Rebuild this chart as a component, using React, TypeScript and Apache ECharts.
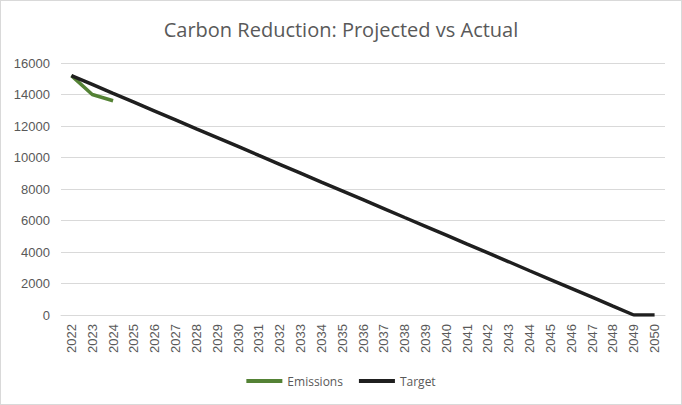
import React, { useEffect, useRef } from "react";
import * as echarts from "echarts";

const years = [
  "2022", "2023", "2024", "2025", "2026", "2027", "2028", "2029", "2030", "2031",
  "2032", "2033", "2034", "2035", "2036", "2037", "2038", "2039", "2040", "2041",
  "2042", "2043", "2044", "2045", "2046", "2047", "2048", "2049", "2050",
];
const emissions = [15200, 14000, 13600];
const target = [
  15200, 14640, 14070, 13510, 12950, 12390, 11820, 11260, 10700, 10130,
  9570, 9010, 8440, 7880, 7320, 6760, 6190, 5630, 5070, 4500,
  3940, 3380, 2810, 2250, 1690, 1130, 560, 0, 0,
];
const yMin = 0;
const yMax = 16000;
const yStep = 2000;

export default function App() {
  const ref = useRef<HTMLDivElement>(null);
  useEffect(() => {
    if (!ref.current) return;
    const chart = echarts.init(ref.current, null, { renderer: "svg" });
    const font = "Open Sans, Noto Sans, sans-serif";
    const labelFont = "Liberation Sans, Arial, sans-serif";
    chart.setOption({
      animation: false,
      backgroundColor: "#ffffff",
      title: {
        text: "Carbon Reduction: Projected vs Actual",
        left: "center",
        top: 13,
        textStyle: { fontFamily: font, fontSize: 20, fontWeight: "normal", color: "#595959" },
      },
      grid: { left: 60, right: 16, top: 62, bottom: 89, containLabel: false },
      xAxis: {
        type: "category",
        data: years,
        boundaryGap: true,
        axisLine: { show: true, lineStyle: { color: "#d9d9d9", width: 1 } },
        axisTick: { show: false },
        axisLabel: {
          rotate: 90,
          fontFamily: labelFont,
          fontSize: 13,
          color: "#595959",
          margin: 9,
          interval: 0,
        },
      },
      yAxis: {
        type: "value",
        min: yMin,
        max: yMax,
        interval: yStep,
        axisLine: { show: false },
        axisTick: { show: false },
        splitLine: { lineStyle: { color: "#d9d9d9", width: 1 } },
        axisLabel: {
          fontFamily: labelFont,
          fontSize: 13,
          color: "#595959",
          margin: 11,
          formatter: (v: number) => String(v),
        },
      },
      legend: {
        bottom: 12,
        left: "center",
        icon: "rect",
        itemWidth: 36,
        itemHeight: 4,
        itemGap: 16,
        textStyle: { fontFamily: font, fontSize: 12, color: "#595959" },
        data: ["Emissions", "Target"],
      },
      series: [
        {
          name: "Emissions",
          type: "line",
          data: emissions,
          showSymbol: false,
          symbol: "none",
          lineStyle: { color: "#548235", width: 3.5 },
          itemStyle: { color: "#548235" },
          z: 3,
        },
        {
          name: "Target",
          type: "line",
          data: target,
          showSymbol: false,
          symbol: "none",
          lineStyle: { color: "#1f1f1f", width: 3.5 },
          itemStyle: { color: "#1f1f1f" },
          z: 4,
        },
      ],
    });
    return () => chart.dispose();
  }, []);
  return (
    <div
      ref={ref}
      style={{
        position: "fixed",
        left: 0,
        top: 0,
        width: 682,
        height: 405,
        boxSizing: "border-box",
        border: "1px solid #d9d9d9",
      }}
    />
  );
}
